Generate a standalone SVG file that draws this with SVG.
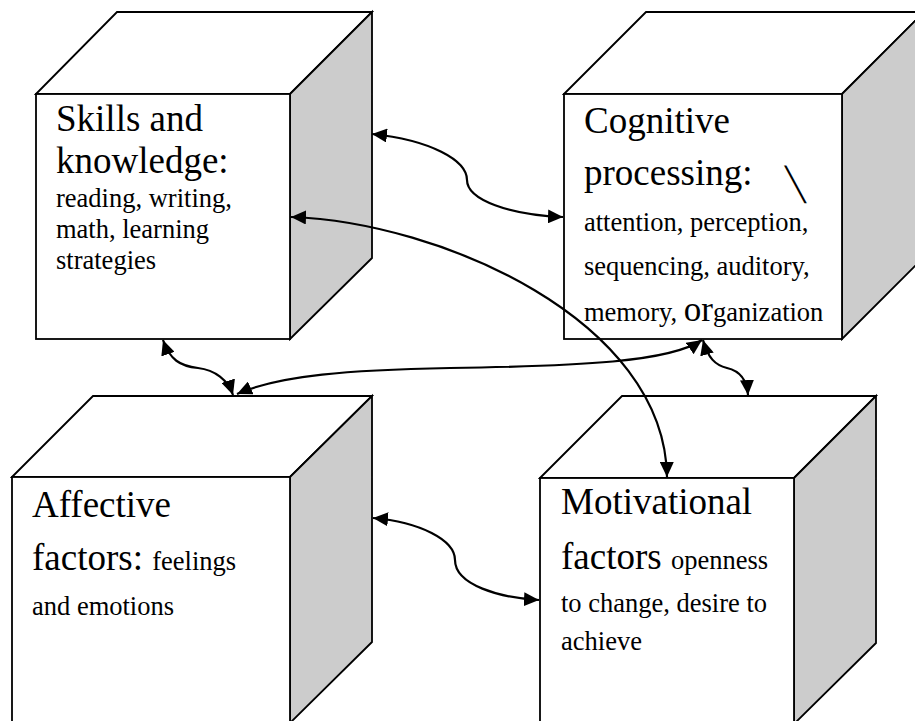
<svg xmlns="http://www.w3.org/2000/svg" width="915" height="721" viewBox="0 0 915 721">
<style>
.front{fill:#fff;stroke:#000;stroke-width:1.8}
.top{fill:#fff;stroke:#000;stroke-width:1.8;stroke-linejoin:miter}
.side{fill:#cccccc;stroke:#000;stroke-width:1.8}
.big{font-family:"Liberation Serif","Times New Roman",serif;font-size:37px;fill:#000}
.small{font-family:"Liberation Serif","Times New Roman",serif;font-size:26.5px;fill:#000}
.conn{fill:none;stroke:#000;stroke-width:2.2;marker-start:url(#ah);marker-end:url(#ah)}
</style>
<defs>
<marker id="ah" markerUnits="userSpaceOnUse" markerWidth="16" markerHeight="14" refX="15" refY="7" orient="auto-start-reverse" viewBox="0 0 16 14">
<path d="M0,0 L15,7 L0,14 Z" fill="#000"/>
</marker>
</defs>
<rect width="915" height="721" fill="#fff"/>

<g id="skills">
<polygon class="top" points="36,94 117,12 372,12 290,94"/>
<polygon class="side" points="290,94 372,12 372,258 290,339"/>
<rect class="front" x="36" y="94" width="254" height="245"/>
<text class="big" x="56" y="131">Skills and</text>
<text class="big" x="56" y="173">knowledge:</text>
<text class="small" x="56" y="207">reading, writing,</text>
<text class="small" x="56" y="238">math, learning</text>
<text class="small" x="56" y="269">strategies</text>
</g>

<g id="cognitive">
<polygon class="top" points="564,94 646,12 924,12 842,94"/>
<polygon class="side" points="842,94 924,12 924,257 842,339"/>
<rect class="front" x="564" y="94" width="278" height="245"/>
<text class="big" x="584" y="133">Cognitive</text>
<text class="big" x="584" y="185">processing:</text>
<text class="big" transform="translate(791,199) skewX(13)" x="0" y="0" style="font-family:'DejaVu Sans',sans-serif;font-size:46px;font-weight:200">\</text>
<text class="small" x="584" y="231">attention, perception,</text>
<text class="small" x="584" y="275">sequencing, auditory,</text>
<text class="small" x="584" y="321">memory, <tspan font-size="35">or</tspan>ganization</text>
</g>

<g id="affective">
<polygon class="top" points="12,477 93,396 372,396 290,477"/>
<polygon class="side" points="290,477 372,396 372,642 290,723"/>
<rect class="front" x="12" y="477" width="278" height="250"/>
<text class="big" x="32" y="517">Affective</text>
<text class="big" x="32" y="570">factors: <tspan class="small">feelings</tspan></text>
<text class="small" x="32" y="615">and emotions</text>
</g>

<g id="motivational">
<polygon class="top" points="540,478 622,396 876,396 794,478"/>
<polygon class="side" points="794,478 876,396 876,643 794,724"/>
<rect class="front" x="540" y="478" width="254" height="250"/>
<text class="big" x="561" y="514">Motivational</text>
<text class="big" x="561" y="569">factors <tspan class="small">openness</tspan></text>
<text class="small" x="561" y="612">to change, desire to</text>
<text class="small" x="561" y="650">achieve</text>
</g>

<g id="connectors">
<path class="conn" d="M372,134 C430,140 467,160 467,180 C467,200 510,215 563,217"/>
<path class="conn" d="M291,217 C440,222 665,320 667,477"/>
<path class="conn" d="M163,340 C170,360 180,366 198,368 C215,370 228,380 233,395"/>
<path class="conn" d="M237,394 C280,375 350,370 450,368 C580,366 670,362 702,340"/>
<path class="conn" d="M703,340 C708,358 715,365 727,368 C740,371 747,380 748,395"/>
<path class="conn" d="M373,518 C420,522 455,540 455,560 C455,585 500,598 539,600"/>
</g>
</svg>
